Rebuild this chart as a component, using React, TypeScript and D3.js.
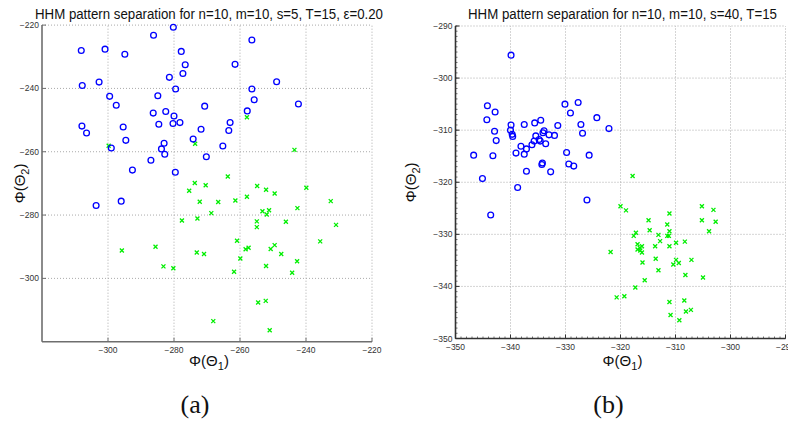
import React from 'react';
import * as d3 from 'd3';

type Pt = [number, number];

// panel (a)
const aTitle = 'HHM pattern separation for n=10, m=10, s=5, T=15, ε=0.20';
const aTicks = [-300, -280, -260, -240, -220];
const aBlue: Pt[] = [
  [-280.2, -220.7], [-286.2, -223.2], [-308.1, -228.0], [-300.9, -227.6], [-294.9, -229.2],
  [-277.8, -228.3], [-276.6, -232.5], [-277.3, -235.3], [-281.4, -236.5], [-307.8, -239.1],
  [-302.7, -238.0], [-279.5, -240.2], [-299.5, -242.5], [-284.9, -242.3], [-297.5, -245.3],
  [-270.7, -245.6], [-286.3, -247.8], [-282.5, -247.3], [-280.0, -248.7], [-307.9, -251.9],
  [-284.6, -251.3], [-280.3, -251.1], [-278.2, -250.8], [-306.5, -254.1], [-295.4, -252.2],
  [-271.8, -252.9], [-294.6, -256.4], [-274.2, -256.0], [-283.0, -257.3], [-283.8, -259.1],
  [-299.0, -258.8], [-282.8, -260.8], [-270.2, -261.6], [-287.0, -262.7], [-292.6, -265.8],
  [-279.6, -266.5], [-296.0, -275.6], [-303.6, -277.0], [-256.4, -224.7], [-261.5, -232.4],
  [-248.9, -237.9], [-256.4, -240.2], [-255.7, -243.6], [-242.3, -244.9], [-257.8, -247.1],
  [-263.0, -250.8], [-263.4, -253.3], [-265.2, -258.2],
];
const aGreen: Pt[] = [
  [-273.6, -257.5], [-299.8, -258.1], [-257.9, -249.1], [-243.5, -259.4], [-273.7, -269.9],
  [-270.4, -270.6], [-275.4, -272.3], [-272.2, -275.8], [-266.6, -275.9], [-268.7, -279.4],
  [-277.6, -281.7], [-272.9, -281.1], [-295.8, -291.2], [-285.6, -290.0], [-273.1, -291.8],
  [-270.9, -292.3], [-283.2, -296.2], [-280.2, -296.8], [-268.1, -313.5], [-263.7, -267.8],
  [-254.8, -270.8], [-252.1, -272.0], [-249.5, -273.2], [-239.9, -271.4], [-257.9, -274.2],
  [-261.4, -275.4], [-232.5, -275.6], [-253.2, -278.8], [-251.2, -278.5], [-251.9, -279.8],
  [-242.6, -277.8], [-254.9, -282.0], [-254.9, -283.8], [-246.1, -282.1], [-230.9, -283.1],
  [-260.9, -288.1], [-235.7, -288.3], [-249.5, -289.5], [-258.3, -290.8], [-257.4, -290.3],
  [-250.7, -290.7], [-259.9, -293.7], [-247.5, -292.3], [-242.7, -294.6], [-252.1, -296.1],
  [-261.8, -297.9], [-244.2, -298.2], [-254.5, -307.6], [-252.2, -307.1], [-251.0, -316.4],
];

// panel (b)
const bTitle = 'HHM pattern separation for n=10, m=10, s=40, T=15';
const bTicks = [-350, -340, -330, -320, -310, -300, -290];
const bBlue: Pt[] = [
  [-339.9, -295.6], [-344.2, -305.3], [-342.8, -306.5], [-344.3, -308.0], [-342.9, -310.2],
  [-342.6, -312.0], [-346.7, -314.8], [-343.2, -314.9], [-345.1, -319.3], [-343.6, -326.3],
  [-339.9, -309.0], [-340.0, -310.0], [-339.7, -310.8], [-339.6, -311.2], [-337.5, -308.9],
  [-335.6, -308.6], [-334.5, -308.1], [-338.1, -313.1], [-339.0, -314.4], [-337.5, -314.6],
  [-337.1, -313.6], [-338.7, -321.0], [-337.1, -317.9], [-336.1, -312.8], [-335.7, -312.1],
  [-335.4, -311.1], [-334.8, -311.8], [-334.6, -312.1], [-334.1, -310.5], [-333.9, -310.1],
  [-333.6, -312.6], [-333.0, -310.9], [-332.0, -311.0], [-331.4, -309.1], [-334.2, -316.3],
  [-334.3, -316.6], [-332.7, -318.0], [-330.1, -305.0], [-329.1, -306.7], [-327.7, -304.7],
  [-327.2, -308.9], [-326.9, -310.6], [-324.3, -307.6], [-322.1, -309.7], [-329.8, -314.3],
  [-329.4, -316.5], [-328.5, -316.9], [-325.7, -314.8], [-326.1, -323.4],
];
const bGreen: Pt[] = [
  [-317.8, -318.8], [-320.0, -324.6], [-319.0, -325.4], [-305.2, -324.6], [-303.1, -325.3],
  [-311.1, -326.0], [-314.9, -327.3], [-305.2, -327.3], [-302.7, -327.6], [-311.5, -328.1],
  [-314.7, -329.2], [-311.1, -329.4], [-303.9, -329.4], [-317.2, -329.7], [-317.6, -330.3],
  [-313.1, -330.1], [-311.5, -330.3], [-311.2, -330.3], [-312.8, -331.3], [-309.9, -331.6],
  [-308.3, -331.4], [-316.9, -331.9], [-316.1, -332.3], [-313.7, -332.3], [-311.1, -332.3],
  [-316.9, -332.9], [-316.5, -332.6], [-316.4, -333.1], [-321.8, -333.4], [-316.1, -333.5],
  [-313.6, -334.7], [-309.9, -334.9], [-307.1, -334.9], [-316.0, -335.4], [-309.4, -335.5],
  [-310.4, -335.8], [-313.1, -336.9], [-308.2, -337.8], [-305.0, -338.3], [-315.6, -338.8],
  [-317.3, -340.2], [-320.7, -342.1], [-319.3, -341.9], [-308.4, -342.7], [-311.1, -343.0],
  [-308.1, -344.8], [-307.2, -344.5], [-310.9, -345.5], [-309.3, -346.5],
];

const sans = 'Liberation Sans, Arial, sans-serif';

type PanelProps = {
  title: string;
  titleWidth: number;
  blue: Pt[];
  green: Pt[];
  xDomain: [number, number];
  yDomain: [number, number];
  xRange: [number, number];
  yRange: [number, number];
  ticks: number[];
  minor: boolean;
  axisColor: string;
  caption: string;
  yLabelX: number;
};

const Panel = ({ title, titleWidth, blue, green, xDomain, yDomain, xRange, yRange, ticks, minor, axisColor, caption, yLabelX }: PanelProps) => {
  const x = d3.scaleLinear().domain(xDomain).range(xRange);
  const y = d3.scaleLinear().domain(yDomain).range(yRange);
  const [x0, x1] = xRange;
  const [yb, yt] = yRange;
  const cx = (x0 + x1) / 2;
  const minorTicks = minor ? d3.range(xDomain[0], xDomain[1] + 0.01, 1) : [];
  const minorYTicks = minor ? d3.range(yDomain[0], yDomain[1] + 0.01, 1) : [];
  const xt = ticks.filter(t => t >= xDomain[0] && t <= xDomain[1]);
  const yt2 = ticks.filter(t => t >= yDomain[0] && t <= yDomain[1]);

  return (
    <g>
      <text x={cx + 2} y={19} textAnchor="middle" fontFamily={sans} fontSize={14} fill="#111"
        textLength={titleWidth} lengthAdjust="spacingAndGlyphs">{title}</text>

      {/* dotted grid */}
      {xt.filter(t => t !== xDomain[0]).map(t => (
        <line key={`gx${t}`} x1={x(t)} x2={x(t)} y1={yb} y2={yt} stroke="#aaa" strokeDasharray="1 2" />
      ))}
      {yt2.filter(t => t !== yDomain[0]).map(t => (
        <line key={`gy${t}`} x1={x0} x2={x1} y1={y(t)} y2={y(t)} stroke="#aaa" strokeDasharray="1 2" />
      ))}

      {/* minor ticks */}
      {minorTicks.map(t => (
        <line key={`mx${t}`} x1={x(t)} x2={x(t)} y1={yb} y2={yb - 2} stroke={axisColor} strokeWidth={0.7} />
      ))}
      {minorYTicks.map(t => (
        <line key={`my${t}`} x1={x0} x2={x0 + 2} y1={y(t)} y2={y(t)} stroke={axisColor} strokeWidth={0.7} />
      ))}

      {/* axes */}
      <line x1={x0} x2={x1} y1={yb} y2={yb} stroke={axisColor} strokeWidth={1.6} />
      <line x1={x0} x2={x0} y1={yb} y2={yt} stroke={axisColor} strokeWidth={1.6} />

      {xt.map(t => (
        <g key={`tx${t}`}>
          <line x1={x(t)} x2={x(t)} y1={yb} y2={yb - 4} stroke={axisColor} strokeWidth={1} />
          <text x={x(t)} y={yb + 11} textAnchor="middle" fontFamily={sans} fontSize={8.5} fill="#333">
            {String(t).replace('-', '\u2212')}
          </text>
        </g>
      ))}
      {yt2.map(t => (
        <g key={`ty${t}`}>
          <line x1={x0} x2={x0 + 4} y1={y(t)} y2={y(t)} stroke={axisColor} strokeWidth={1} />
          <text x={x0 - 3} y={y(t) + 3} textAnchor="end" fontFamily={sans} fontSize={8.5} fill="#333">
            {String(t).replace('-', '\u2212')}
          </text>
        </g>
      ))}

      {/* markers */}
      {green.map((d, i) => {
        const px = x(d[0]);
        const py = y(d[1]);
        return (
          <path key={`g${i}`} d={`M${px - 2},${py - 2}L${px + 2},${py + 2}M${px - 2},${py + 2}L${px + 2},${py - 2}`}
            stroke="#00ee00" strokeWidth={1.3} fill="none" />
        );
      })}
      {blue.map((d, i) => (
        <circle key={`b${i}`} cx={x(d[0])} cy={y(d[1])} r={2.9} fill="none" stroke="#0000ff" strokeWidth={1.3} />
      ))}

      {/* axis labels */}
      <text x={cx + 2} y={366} textAnchor="middle" fontFamily={sans} fontSize={15} fill="#111">
        Φ(Θ<tspan dy={4} fontSize={11}>1</tspan><tspan dy={-4}>)</tspan>
      </text>
      <text transform={`translate(${yLabelX},${(yb + yt) / 2}) rotate(-90)`} textAnchor="middle"
        fontFamily={sans} fontSize={15} fill="#111">
        Φ(Θ<tspan dy={4} fontSize={11}>2</tspan><tspan dy={-4}>)</tspan>
      </text>

      <text x={cx - 12} y={413} textAnchor="middle" fontFamily="Liberation Serif, DejaVu Serif, serif" fontSize={26} fill="#111">
        {caption}
      </text>
    </g>
  );
};

export default function App() {
  return (
    <svg width={788} height={421} style={{ position: 'absolute', left: 0, top: 0, background: '#fff' }}>
      <rect width={788} height={421} fill="#fff" />
      <Panel title={aTitle} titleWidth={348} blue={aBlue} green={aGreen}
        xDomain={[-320, -220]} yDomain={[-320, -220]} xRange={[42, 372]} yRange={[341.7, 25.1]}
        ticks={aTicks} minor={false} axisColor="#6e6e6e" caption="(a)" yLabelX={25} />
      <Panel title={bTitle} titleWidth={309} blue={bBlue} green={bGreen}
        xDomain={[-350, -290]} yDomain={[-350, -290]} xRange={[455.5, 785.5]} yRange={[338.5, 26]}
        ticks={bTicks} minor={true} axisColor="#333" caption="(b)" yLabelX={416} />
    </svg>
  );
}
